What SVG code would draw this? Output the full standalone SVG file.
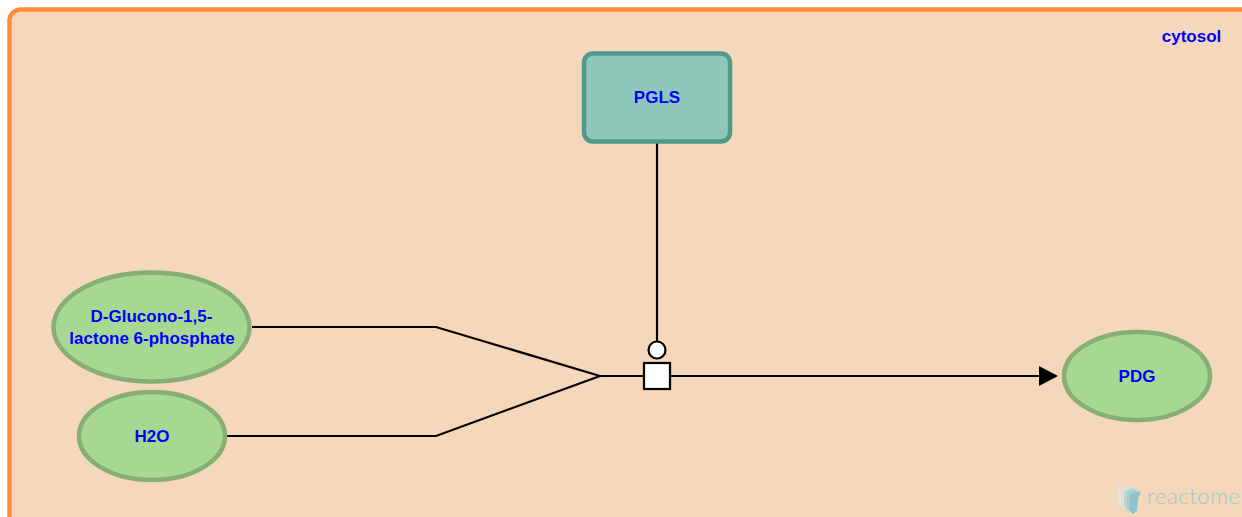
<svg xmlns="http://www.w3.org/2000/svg" width="1242" height="517" viewBox="0 0 1242 517">
<style>
text{font-family:"Liberation Sans",Arial,sans-serif;font-weight:700;font-size:17px;fill:#0000ff;text-anchor:middle}
.ent{fill:#a6d891;stroke:#86ae75;stroke-width:4.5}
.line{fill:none;stroke:#000;stroke-width:2.2}
.glyph{fill:#fff;stroke:#000;stroke-width:2.2}
</style>
<rect width="1242" height="517" fill="#fff"/>
<g id="compartment-cytosol">
<rect x="9.500" y="9.500" width="1280" height="560" rx="11" fill="#f5d7bb" stroke="#ff8c3a" stroke-width="4.500"/>
<text x="1191.500" y="42">cytosol</text>
</g>
<g id="logo">
<path d="M1118 490l13-5 2 3v15l-9 6-6-3z" fill="#dfe3d8"/>
<path d="M1124 491l9-3 3 2-1 16-5 4-6-3z" fill="#bcd6d4"/>
<path d="M1127 493l9-3 2 2-1 17-4 4-6-3z" fill="#a5cdd1"/>
<path d="M1130 495l11-4-3 8-1 12-4 3-3-3z" fill="#8fc3cb"/>
<text x="1147" y="504" textLength="93" lengthAdjust="spacing" style="font-family:'Lato',sans-serif;font-weight:300;font-size:22px;text-anchor:start;fill:#9ccbd0">reactome</text>
</g>
<g id="connectors">
<path class="line" d="M252 327H436L600 376"/>
<path class="line" d="M227 436H436L600 376"/>
<path class="line" d="M600 376H1040"/>
<path class="line" d="M657 142V341"/>
<path d="M1039 366L1058 376L1039 386Z" fill="#000"/>
<rect class="glyph" x="644" y="363" width="26" height="26"/>
<circle class="glyph" cx="657" cy="350" r="8.500"/>
</g>
<g id="node-pgls">
<rect x="584" y="53.500" width="146" height="88" rx="9" fill="#8fc7bb" stroke="#4f9a8a" stroke-width="4.500"/>
<text x="657" y="103">PGLS</text>
</g>
<g id="node-glucono">
<ellipse class="ent" cx="151.500" cy="327" rx="98" ry="54.500"/>
<text x="151.500" y="322">D-Glucono-1,5-</text>
<text x="152" y="344">lactone 6-phosphate</text>
</g>
<g id="node-h2o">
<ellipse class="ent" cx="152" cy="436" rx="73" ry="44"/>
<text x="152" y="442">H2O</text>
</g>
<g id="node-pdg">
<ellipse class="ent" cx="1137" cy="376" rx="73" ry="44"/>
<text x="1137" y="382">PDG</text>
</g>
</svg>
